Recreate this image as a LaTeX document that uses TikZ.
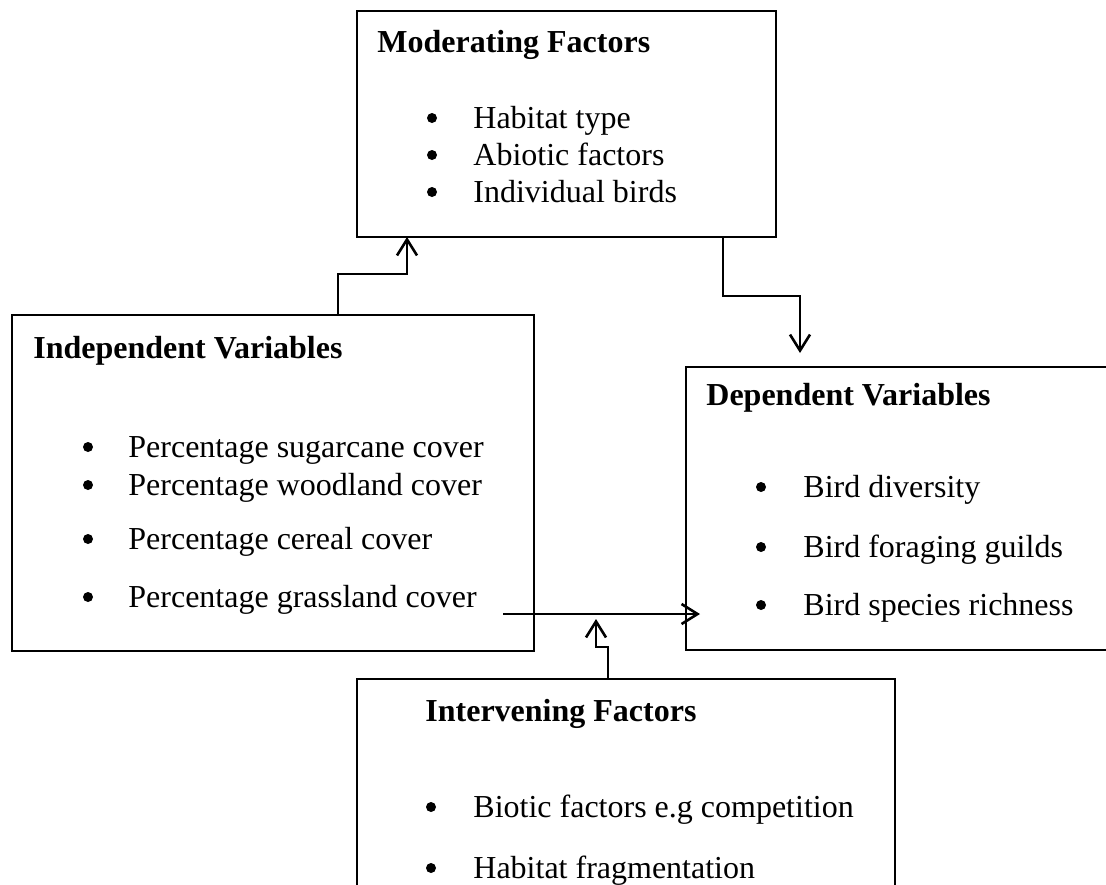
\documentclass[tikz,border=0pt]{standalone}
\usepackage{fontspec}
\setmainfont{Liberation Serif}
\usepackage{tikz}
\usetikzlibrary{arrows.meta, positioning}

\begin{document}
\begin{tikzpicture}[x=0.5pt, y=-0.5pt,
		box/.style={draw, line width=0.6pt, inner sep=0pt, outer sep=0pt, anchor=north west},
		title/.style={anchor=base west, inner sep=0pt, font=\fontsize{16}{19}\selectfont\bfseries},
		item/.style={anchor=base west, inner sep=0pt, font=\fontsize{16}{19}\selectfont},
		dot/.style={circle, fill, inner sep=0pt, minimum size=5pt},
		flow/.style={line width=1.4pt, -{Straight Barb[length=8pt, width=10pt, line width=1.3pt]}}]
			\clip (0, 0) rectangle (1106, 884);
			% Boxes:
			\node[box, minimum width=209.5pt, minimum height=113pt] (moder) at (357, 11){};
			\node[box, minimum width=261pt, minimum height=168pt] (indep) at (12, 315){};
			\node[box, minimum width=230pt, minimum height=141.5pt] (dep) at (686, 367){};
			\node[box, minimum width=269pt, minimum height=120pt] (interv) at (357, 679){};
			% Texts:
			\node[title] (moderT) at (377, 52){Moderating Factors};
			\node[dot] (moderB1) at (432, 118){};
			\node[item] (moderI1) at (473, 128){Habitat type};
			\node[dot] (moderB2) at (432, 155){};
			\node[item] (moderI2) at (473, 165){Abiotic factors};
			\node[dot] (moderB3) at (432, 192){};
			\node[item] (moderI3) at (473, 202){Individual birds};
			\node[title] (indepT) at (33, 358){Independent Variables};
			\node[dot] (indepB1) at (88, 447){};
			\node[item] (indepI1) at (128, 457){Percentage sugarcane cover};
			\node[dot] (indepB2) at (88, 485){};
			\node[item] (indepI2) at (128, 495){Percentage woodland cover};
			\node[dot] (indepB3) at (88, 539){};
			\node[item] (indepI3) at (128, 549){Percentage cereal cover};
			\node[dot] (indepB4) at (88, 597){};
			\node[item] (indepI4) at (128, 607){Percentage grassland cover};
			\node[title] (depT) at (706, 405){Dependent Variables};
			\node[dot] (depB1) at (761, 487){};
			\node[item] (depI1) at (803, 497){Bird diversity};
			\node[dot] (depB2) at (761, 547){};
			\node[item] (depI2) at (803, 557){Bird foraging guilds};
			\node[dot] (depB3) at (761, 605){};
			\node[item] (depI3) at (803, 615){Bird species richness};
			\node[title] (intervT) at (425, 721){Intervening Factors};
			\node[dot] (intervB1) at (431, 807){};
			\node[item] (intervI1) at (473, 817){Biotic factors e.g competition};
			\node[dot] (intervB2) at (431, 868){};
			\node[item] (intervI2) at (473, 878){Habitat fragmentation};
			% Connectors:
			\coordinate (k1) at (338, 274);
			\coordinate (k2) at (407, 274);
			\draw[flow] (indep.north -| k1) |- (k2) -- (k2 |- moder.south);
			\coordinate (k3) at (723, 296);
			\coordinate (k4) at (800, 296);
			\coordinate (t2) at (800, 353);
			\draw[flow] (moder.south -| k3) |- (k4) -- (t2);
			\coordinate (s3) at (503, 614);
			\coordinate (t3) at (700, 614);
			\draw[flow] (s3) -- (t3);
			\coordinate (k5) at (608, 647);
			\coordinate (k6) at (596, 647);
			\coordinate (t4) at (596, 619);
			\draw[flow] (interv.north -| k5) |- (k6) -- (t4);
		\end{tikzpicture}
\end{document}
